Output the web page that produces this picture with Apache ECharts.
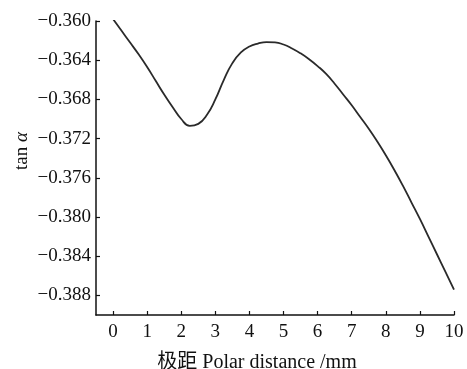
<!DOCTYPE html>
<html>
<head>
<meta charset="utf-8">
<script src="https://cdn.jsdelivr.net/npm/echarts@6/dist/echarts.min.js"></script>
<style>
  html, body { margin: 0; padding: 0; background: #fff; }
  #chart { width: 467px; height: 369px; }
</style>
</head>
<body>
<div id="chart"></div>
<script>
// polar distance (mm) and tan(alpha)
const polarDist = [0, 0.25, 0.5, 0.75, 1.0, 1.25, 1.5, 1.75, 2.0, 2.25, 2.5, 2.75,
  3.0, 3.25, 3.5, 3.75, 4.0, 4.25, 4.5, 4.75, 5.0, 5.25, 5.5, 5.75,
  6.0, 6.25, 6.5, 6.75, 7.0, 7.25, 7.5, 7.75, 8.0, 8.25, 8.5, 8.75,
  9.0, 9.25, 9.5, 9.75, 10.0];
const tanAlpha = [-0.3598, -0.3610, -0.3622, -0.3634, -0.3647, -0.3661, -0.3675, -0.3688,
  -0.3700, -0.3707, -0.3705, -0.3696,
  -0.3680, -0.3660, -0.3643, -0.3632, -0.3626, -0.3623, -0.36215, -0.36218,
  -0.3624, -0.3628, -0.3633, -0.3639,
  -0.3646, -0.3654, -0.3664, -0.3675, -0.3686, -0.3698, -0.3710, -0.3723,
  -0.3737, -0.3752, -0.3768, -0.3785, -0.3802, -0.3820, -0.3838, -0.3856, -0.3874];
const xTicks = [0, 1, 2, 3, 4, 5, 6, 7, 8, 9, 10];
const yTicks = [-0.388, -0.384, -0.380, -0.376, -0.372, -0.368, -0.364, -0.360];

const font = "'Liberation Serif', 'Noto Sans CJK SC', serif";
const chart = echarts.init(document.getElementById("chart"));

const option = {
  animation: false,
  grid: { left: 96, right: 13, top: 21, bottom: 54, outerBoundsMode: "none" },
  xAxis: {
    type: "value",
    min: -0.5,
    max: 10,
    name: "极距 Polar distance /mm",
    nameLocation: "middle",
    nameGap: 38,
    nameTextStyle: { fontFamily: font, fontSize: 20, color: "#111", padding: [0, 36, 0, 0] },
    axisLine: { onZero: false, lineStyle: { color: "#111", width: 1.5 } },
    axisTick: { inside: true, length: 4, customValues: xTicks, lineStyle: { color: "#111", width: 1.2 } },
    axisLabel: {
      customValues: xTicks,
      margin: 8,
      fontFamily: font,
      fontSize: 19,
      color: "#111"
    },
    splitLine: { show: false }
  },
  yAxis: {
    type: "value",
    min: -0.390,
    max: -0.360,
    axisLine: { show: true, onZero: false, lineStyle: { color: "#111", width: 1.5 } },
    axisTick: { show: true, inside: true, length: 4, customValues: yTicks, lineStyle: { color: "#111", width: 1.2 } },
    axisLabel: {
      customValues: yTicks,
      margin: 5,
      fontFamily: font,
      fontSize: 19,
      color: "#111",
      formatter: (v) => v.toFixed(3).replace("-", "\u2212")
    },
    splitLine: { show: false }
  },
  graphic: [
    {
      type: "text",
      x: 22,
      y: 151,
      rotation: Math.PI / 2,
      style: {
        text: "tan {i|α}",
        font: "19px " + font,
        fill: "#111",
        align: "center",
        verticalAlign: "middle",
        rich: { i: { fontStyle: "italic", fontFamily: font, fontSize: 19, fill: "#111" } }
      }
    }
  ],
  series: [
    {
      type: "line",
      data: polarDist.map((x, i) => [x, tanAlpha[i]]),
      smooth: 0.5,
      symbol: "none",
      lineStyle: { color: "#2a2a2a", width: 1.8 }
    }
  ]
};
chart.setOption(option);
</script>
</body>
</html>
